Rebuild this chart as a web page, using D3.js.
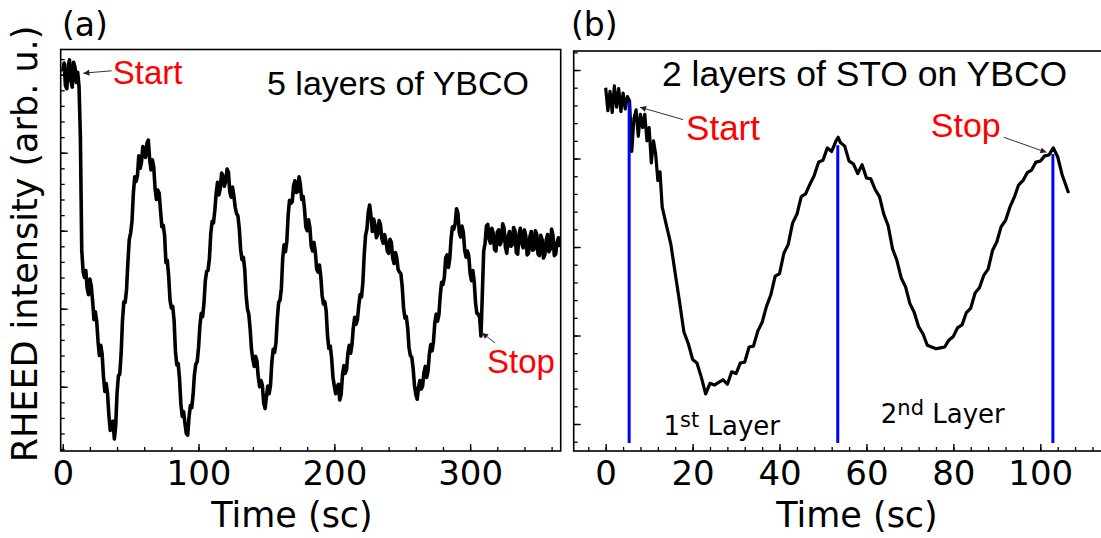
<!DOCTYPE html>
<html>
<head>
<meta charset="utf-8">
<script src="https://cdn.jsdelivr.net/npm/d3@7"></script>
<style>
  body { margin: 0; background: #fff; }
  svg { display: block; }
</style>
</head>
<body>
<svg id="chart"></svg>
<script>
// ---- data -------------------------------------------------------------
// (a) 5 layers of YBCO, one reading every second starting at t = 0
const stepA = 1;
const intensityA = [
  50.4, 51.5, 48.6, 48.2, 51.2, 51.9, 49.2, 48.4, 51.6, 51.0,
  49.0, 50.3, 48.5, 42.0, 27.5, 24.8, 24.0, 24.9, 22.6, 21.8,
  23.8, 22.9, 21.0, 18.6, 19.6, 18.4, 15.8, 14.0, 15.3, 14.2,
  11.3, 9.4, 10.4, 9.1, 6.3, 4.4, 5.4, 5.6, 3.3, 5.0,
  9.2, 11.4, 11.6, 14.2, 18.5, 20.9, 20.8, 22.5, 26.0, 28.9,
  29.7, 31.2, 34.8, 36.9, 36.3, 37.0, 39.6, 38.0, 38.8, 40.8,
  40.4, 39.4, 41.2, 41.6, 39.2, 37.8, 39.1, 38.2, 35.4, 34.0,
  35.2, 34.8, 32.6, 30.5, 30.7, 29.4, 25.9, 26.2, 24.2, 21.1,
  20.1, 20.3, 18.5, 14.5, 12.8, 13.0, 11.0, 7.8, 6.2, 6.8,
  5.3, 4.0, 3.8, 6.1, 7.6, 7.3, 9.0, 11.6, 12.9, 13.2,
  15.0, 17.8, 19.4, 19.0, 20.7, 23.6, 24.8, 24.9, 26.4, 29.6,
  31.2, 31.0, 32.6, 34.8, 36.2, 34.6, 35.4, 37.4, 37.0, 35.7,
  36.3, 37.9, 37.5, 35.0, 34.3, 35.6, 34.5, 33.0, 32.2, 31.9,
  30.3, 27.6, 26.3, 26.6, 25.1, 21.8, 20.0, 19.3, 17.4, 14.8,
  13.5, 12.6, 13.9, 13.3, 11.2, 10.0, 10.8, 10.2, 7.9, 7.2,
  8.7, 10.1, 9.1, 10.2, 13.2, 14.8, 14.4, 15.6, 18.7, 20.8,
  21.1, 22.6, 26.5, 28.2, 27.3, 28.6, 32.0, 33.9, 33.5, 33.7,
  35.8, 36.4, 34.9, 35.0, 36.9, 35.9, 34.0, 34.4, 32.9, 30.5,
  30.0, 31.4, 30.4, 28.0, 27.4, 28.5, 27.3, 25.1, 24.7, 25.6,
  24.2, 21.7, 20.6, 20.9, 19.7, 16.5, 14.9, 15.2, 13.7, 11.2,
  10.1, 9.1, 10.0, 10.3, 8.3, 9.0, 11.5, 12.7, 11.7, 12.2,
  14.3, 15.3, 14.3, 15.4, 17.6, 18.9, 18.0, 18.6, 20.4, 21.8,
  21.5, 23.3, 26.9, 29.4, 30.2, 32.4, 33.3, 31.9, 29.9, 31.5,
  30.7, 29.1, 29.6, 31.3, 30.7, 29.0, 28.4, 29.5, 28.7, 27.4,
  27.1, 28.9, 28.5, 26.5, 25.8, 27.2, 26.5, 25.0, 24.7, 24.5,
  22.8, 20.1, 18.8, 19.0, 17.6, 15.0, 14.0, 13.8, 12.4, 10.2,
  9.0, 8.4, 9.9, 10.8, 9.7, 10.1, 11.8, 12.6, 11.2, 12.0,
  14.2, 15.4, 14.6, 15.8, 18.2, 19.3, 18.4, 19.2, 21.7, 23.4,
  23.1, 24.0, 26.5, 26.9, 25.3, 26.4, 29.0, 30.5, 30.2, 30.9,
  32.8, 32.3, 29.8, 29.2, 30.6, 29.8, 27.5, 26.6, 27.4, 26.8,
  24.5, 23.6, 24.9, 23.5, 20.7, 19.4, 19.3, 18.9, 16.5, 22.0,
  27.4, 28.4, 30.6, 30.8, 28.9, 28.4, 30.3, 29.7, 27.6, 27.4,
  29.8, 30.1, 28.2, 28.6, 30.9, 30.3, 27.9, 27.1, 29.3, 29.9,
  28.0, 28.2, 30.4, 30.0, 27.2, 27.0, 29.6, 30.3, 28.4, 27.8,
  30.1, 29.3, 26.9, 27.1, 29.2, 29.9, 27.5, 27.6, 30.0, 29.6,
  27.0, 26.8, 29.4, 28.9, 26.5, 26.9, 28.8, 29.5, 27.3, 27.6,
  30.2, 29.4, 26.8, 27.0, 28.5, 29.1, 27.9
];

// (b) 2 layers of STO on YBCO
const timeB = [
  0, 0.5, 1, 1.5, 2, 2.5, 3, 3.5, 4, 4.5, 5, 5.5, 6, 6.5, 7, 7.5, 8, 8.5, 9, 9.5,
  10, 10.5, 11, 11.5, 12, 12.5, 13, 14, 15, 16, 17, 18, 19, 20, 21, 22, 23, 24, 25,
  26, 27, 28, 29, 30, 31, 32, 33, 34, 35, 36, 37, 38, 39, 40, 41, 42, 43, 44, 45,
  46, 47, 48, 49, 50, 51, 52, 53, 53.5, 54, 55, 56, 57, 58, 59, 60, 61, 62, 63, 64,
  65, 66, 67, 68, 69, 70, 71, 72, 73, 74, 75, 76, 77, 78, 79, 80, 81, 82, 83, 84,
  85, 86, 87, 88, 89, 90, 91, 92, 93, 94, 95, 96, 97, 98, 99, 100, 101, 102, 103,
  104, 105, 106, 106.5
];
const intensityB = [
  48.0, 45.4, 47.6, 45.2, 48.2, 45.8, 47.9, 45.3, 47.4, 45.6, 47.0, 46.5, 40.8, 44.5,
  45.5, 42.5, 45.0, 43.5, 45.0, 42.0, 43.5, 39.5, 42.0, 40.5, 37.5, 38.5, 34.5, 32.4,
  30.3, 27.0, 23.8, 20.4, 19.1, 17.3, 16.9, 15.3, 13.4, 14.6, 14.4, 14.7, 15.0, 14.5,
  15.9, 15.7, 16.9, 17.0, 18.7, 18.8, 20.5, 21.5, 23.3, 24.6, 26.7, 27.0, 29.3, 30.3,
  32.7, 33.7, 35.7, 36.0, 37.1, 38.1, 39.6, 39.8, 41.2, 40.8, 42.0, 42.4, 41.8, 41.4,
  39.7, 39.4, 38.3, 39.3, 37.8, 37.7, 36.5, 35.7, 33.7, 32.4, 29.8, 28.5, 26.5, 25.5,
  23.6, 22.6, 21.0, 20.2, 18.9, 18.7, 18.5, 18.6, 18.7, 19.5, 19.9, 20.9, 21.2, 22.6,
  23.1, 24.8, 25.4, 26.8, 27.5, 29.6, 30.6, 32.3, 33.0, 34.5, 35.6, 37.0, 37.5, 38.4,
  38.7, 39.6, 39.7, 40.3, 40.4, 41.2, 40.2, 38.2, 36.8, 36.1
];

// blue markers: start of growth and the two completed layers
const markTimesB = [5.4, 53.4, 102.9];
const markTopsB = [46.4, 41.5, 40.5];
const markFloorB = 7.85;

const majorTicksA = [0, 100, 200, 300];
const majorTicksB = [0, 20, 40, 60, 80, 100];
const majorTicksY = [10, 20, 30, 40, 50];

// ---- layout -----------------------------------------------------------
const W = 1101, H = 538;
const svg = d3.select("#chart").attr("width", W).attr("height", H);

const defs = svg.append("defs");
defs.append("marker")
    .attr("id", "arrow")
    .attr("viewBox", "0 0 10 10")
    .attr("refX", 10).attr("refY", 5)
    .attr("markerWidth", 9).attr("markerHeight", 6)
    .attr("markerUnits", "userSpaceOnUse")
    .attr("orient", "auto")
    .append("path").attr("d", "M0,0L10,5L0,10z").attr("fill", "#222");

const sans = "'DejaVu Sans', Verdana, sans-serif";
const arial = "'Liberation Sans', Arial, sans-serif";

function makePanel(id, box, xDomain, yDomain, xMajor, xMinorStep, yMinorFrom) {
    const x = d3.scaleLinear().domain(xDomain).range([box.x0, box.x1]);
    const y = d3.scaleLinear().domain(yDomain).range([box.y1, box.y0]);
    const g = svg.append("g");

    defs.append("clipPath").attr("id", "clip-" + id)
        .append("rect")
        .attr("x", box.x0).attr("y", box.y0)
        .attr("width", box.x1 - box.x0).attr("height", box.y1 - box.y0);

    const plot = g.append("g").attr("clip-path", `url(#clip-${id})`);

    // minor x ticks
    const xMinor = d3.range(Math.ceil(xDomain[0] / xMinorStep) * xMinorStep, xDomain[1], xMinorStep);
    g.append("g")
        .attr("transform", `translate(0,${box.y1})`)
        .call(d3.axisBottom(x).tickValues(xMinor).tickSize(-4).tickFormat(""))
        .call(a => a.select(".domain").remove())
        .selectAll("line").attr("stroke-width", 1.3);

    // major x ticks with labels
    g.append("g")
        .attr("transform", `translate(0,${box.y1})`)
        .call(d3.axisBottom(x).tickValues(xMajor).tickSize(-7).tickPadding(10).tickFormat(d3.format("d")))
        .call(a => a.select(".domain").remove())
        .attr("font-family", sans).attr("font-size", 34)
        .call(a => a.selectAll("line").attr("stroke-width", 1.4))
        .call(a => a.selectAll("text").attr("fill", "#000"));

    // y ticks (no labels)
    const yMinor = d3.range(yMinorFrom, yDomain[1], 2);
    g.append("g")
        .attr("transform", `translate(${box.x0},0)`)
        .call(d3.axisLeft(y).tickValues(yMinor).tickSize(-4).tickFormat(""))
        .call(a => a.select(".domain").remove())
        .selectAll("line").attr("stroke-width", 1.3);
    g.append("g")
        .attr("transform", `translate(${box.x0},0)`)
        .call(d3.axisLeft(y).tickValues(majorTicksY).tickSize(-7).tickFormat(""))
        .call(a => a.select(".domain").remove())
        .selectAll("line").attr("stroke-width", 1.4);

    return { x, y, g, plot, box };
}

function frame(p) {
    p.g.append("rect")
        .attr("x", p.box.x0).attr("y", p.box.y0)
        .attr("width", p.box.x1 - p.box.x0).attr("height", p.box.y1 - p.box.y0)
        .attr("fill", "none").attr("stroke", "#000").attr("stroke-width", 1.6);
}

function arrow(p, from, to) {
    p.g.append("line")
        .attr("x1", p.x(from[0])).attr("y1", p.y(from[1]))
        .attr("x2", p.x(to[0])).attr("y2", p.y(to[1]))
        .attr("stroke", "#333").attr("stroke-width", 1)
        .attr("marker-end", "url(#arrow)");
}

function redLabel(p, at, text, size) {
    p.g.append("text")
        .attr("x", p.x(at[0])).attr("y", p.y(at[1]))
        .attr("font-family", arial).attr("font-size", size)
        .attr("fill", "#ff0000").text(text);
}

// ---- panel (a) --------------------------------------------------------
const pa = makePanel("a", { x0: 60.7, x1: 560.7, y0: 49.5, y1: 451 },
    [-1.5, 366.7], [1.76, 53.23], majorTicksA, 20, 2);

const lineA = d3.line()
    .x((d, i) => pa.x(i * stepA))
    .y(d => pa.y(d));

pa.plot.append("path")
    .datum(intensityA)
    .attr("d", lineA)
    .attr("fill", "none")
    .attr("stroke", "#000")
    .attr("stroke-width", 3.6)
    .attr("stroke-linejoin", "round");

frame(pa);

pa.g.append("text")
    .attr("x", 267).attr("y", 95)
    .attr("font-family", arial).attr("font-size", 34)
    .text("5 layers of YBCO");

redLabel(pa, [36.8, 48.8], "Start", 33);
arrow(pa, [36.1, 50.5], [15.2, 50.2]);
redLabel(pa, [312.4, 11.8], "Stop", 33);
arrow(pa, [318.4, 15.6], [308.8, 16.9]);

// ---- panel (b) --------------------------------------------------------
const pb = makePanel("b", { x0: 573.7, x1: 1102, y0: 51, y1: 451 },
    [-7.36, 114.2], [6.95, 52.15], majorTicksB, 4, 8);

const pointsB = timeB.map((t, i) => [t, intensityB[i]]);

pb.plot.append("path")
    .datum(pointsB)
    .attr("d", d3.line().x(d => pb.x(d[0])).y(d => pb.y(d[1])))
    .attr("fill", "none")
    .attr("stroke", "#000")
    .attr("stroke-width", 3.2)
    .attr("stroke-linejoin", "round");

pb.plot.selectAll(".mark")
    .data(markTimesB)
    .join("line")
    .attr("class", "mark")
    .attr("x1", d => pb.x(d)).attr("x2", d => pb.x(d))
    .attr("y1", (d, i) => pb.y(markTopsB[i]))
    .attr("y2", pb.y(markFloorB))
    .attr("stroke", "#0000ff")
    .attr("stroke-width", 3);

frame(pb);

pb.g.append("text")
    .attr("x", 662).attr("y", 86)
    .attr("font-family", arial).attr("font-size", 35.5)
    .text("2 layers of STO on YBCO");

redLabel(pb, [18.5, 42.1], "Start", 35);
arrow(pb, [17.8, 44.4], [7.9, 45.8]);
redLabel(pb, [74.8, 42.4], "Stop", 34);
arrow(pb, [91.6, 42.4], [101.4, 40.7]);

function layerLabel(p, at, num, sup) {
    const t = p.g.append("text")
        .attr("x", p.x(at[0])).attr("y", p.y(at[1]))
        .attr("font-family", sans).attr("font-size", 26);
    t.append("tspan").text(num);
    t.append("tspan").attr("font-size", 21).attr("dy", -8).text(sup);
    t.append("tspan").attr("dy", 8).text(" Layer");
}
layerLabel(pb, [13.3, 8.76], "1", "st");
layerLabel(pb, [63.3, 10.1], "2", "nd");

// ---- shared labels ----------------------------------------------------
svg.append("text")
    .attr("x", 62).attr("y", 36)
    .attr("font-family", sans).attr("font-size", 33)
    .text("(a)");
svg.append("text")
    .attr("x", 571).attr("y", 36)
    .attr("font-family", sans).attr("font-size", 33)
    .text("(b)");

svg.append("text")
    .attr("x", 292).attr("y", 527)
    .attr("text-anchor", "middle")
    .attr("font-family", sans).attr("font-size", 35)
    .text("Time (sc)");
svg.append("text")
    .attr("x", 857).attr("y", 527)
    .attr("text-anchor", "middle")
    .attr("font-family", sans).attr("font-size", 35)
    .text("Time (sc)");

svg.append("text")
    .attr("transform", "translate(37,244) rotate(-90)")
    .attr("text-anchor", "middle")
    .attr("font-family", sans).attr("font-size", 35)
    .text("RHEED intensity (arb. u.)");
</script>
</body>
</html>
